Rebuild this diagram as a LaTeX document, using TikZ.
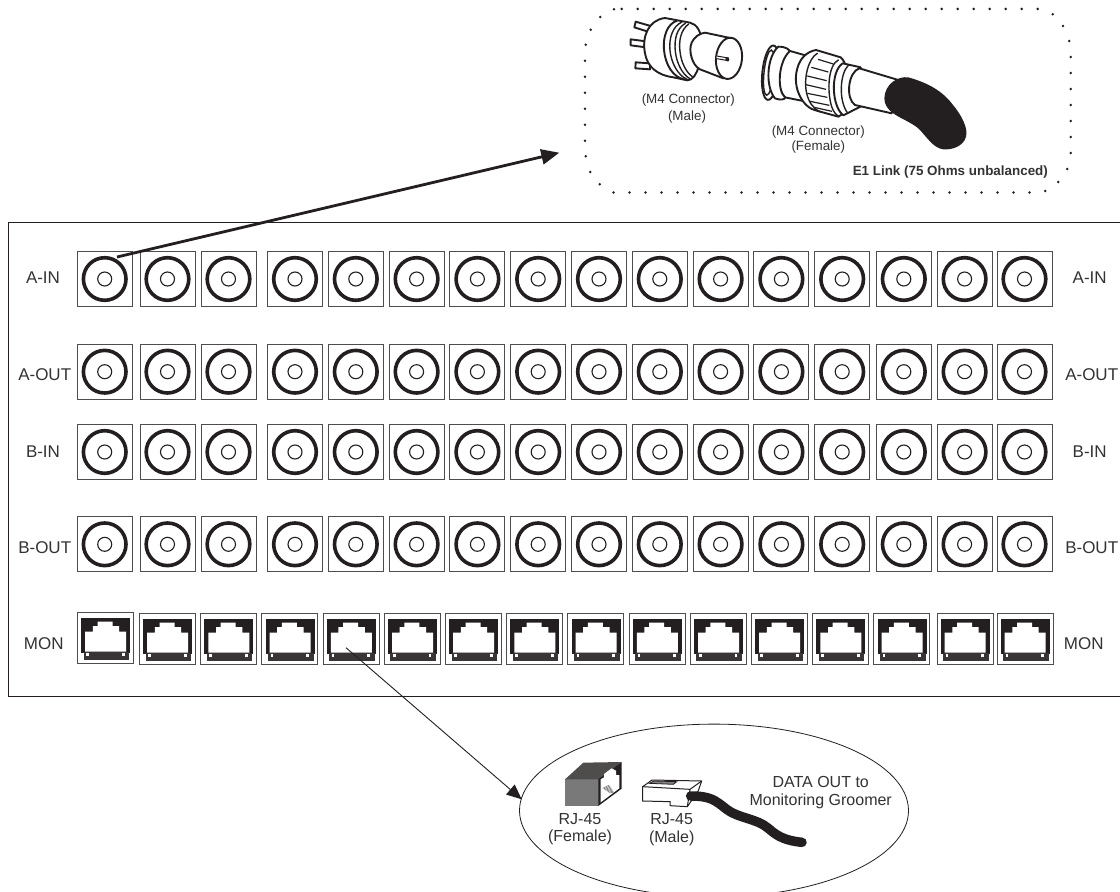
\documentclass[tikz,border=0pt]{standalone}
\usepackage{fontspec}
\setmainfont{Liberation Sans}
\usetikzlibrary{arrows.meta,shapes.geometric}
\definecolor{ink}{HTML}{231F20}
\definecolor{txt}{HTML}{333333}
\tikzset{
  x=1pt,y=-1pt,
  panel/.style={draw=ink,line width=1pt},
  portbox/.style={draw=ink!80,line width=.9pt,minimum width=55pt,minimum height=55pt,inner sep=0pt,fill=white},
  rjbox/.style={draw=ink!80,line width=.9pt,minimum width=56pt,minimum height=51pt,inner sep=0pt,fill=white},
  lab/.style={text=txt,font=\fontsize{17}{20}\selectfont,inner sep=0pt},
  small/.style={text=txt,font=\fontsize{13.4}{16}\selectfont,inner sep=0pt},
  mid/.style={text=txt,font=\fontsize{16}{19}\selectfont,inner sep=0pt},
  boldlab/.style={text=txt,font=\fontsize{13.4}{16}\selectfont\bfseries,inner sep=0pt},
  hw/.style={draw=ink,line width=1.9pt,line join=round,fill=white},
  hl/.style={draw=ink,line width=1.4pt,line cap=round},
  rjicon/.pic={
    \fill[ink] (-24.3,-19.5) rectangle (24.7,14.8);
    \fill[white] (-20.3,13.8) -- (-20.3,-6.2) -- (-12.7,-6.2) -- (-12.7,-11.8) -- (-8,-11.8) -- (-8,-16.2)
      -- (7,-16.2) -- (7,-11.8) -- (13.7,-11.8) -- (13.7,-6.2) -- (20.7,-6.2) -- (20.7,13.8) -- cycle;
    \fill[ink!90] (-22,13.8) rectangle (23.7,22.2);
    \fill[white] (-19.3,15.5) rectangle (-16.7,17.8);
    \fill[white] (16.3,15.5) rectangle (19,17.8);
  }
}
\begin{document}
\begin{tikzpicture}
\clip (0,0) rectangle (1120,892);
\fill[white] (0,0) rectangle (1120,892);
% panel
\draw[panel] (1130,222) -- (8,222) -- (8,696) -- (1130,696);
% BNC ports
\foreach \rn/\ry in {1/279,2/371.7,3/452,4/544.3}{
  \foreach \cn/\cx in {1/104.7,2/167.5,3/228.5,4/295,5/355.8,6/416.6,7/477.4,8/538.2,9/599,10/659.8,11/720.6,12/781.4,13/842.2,14/903.8,15/964.6,16/1024.5}{
    \node[portbox] (bnc-\rn-\cn) at (\cx,\ry) {};
    \draw[ink,line width=3.6pt] (bnc-\rn-\cn.center) circle[radius=21.3];
    \draw[ink,line width=1.1pt] (bnc-\rn-\cn.center) circle[radius=7];
  }
}
% RJ ports
\node[rjbox] (rj-1) at (105.5,637.8) {};
\pic at (rj-1.center) {rjicon};
\foreach \cn/\cx in {2/167.5,3/228.7,4/289.9,5/351.1,6/412.3,7/473.5,8/534.7,9/595.9,10/657.1,11/718.3,12/779.5,13/840.7,14/901.9,15/965,16/1025}{
  \node[rjbox] (rj-\cn) at (\cx,638.8) {};
  \pic at (rj-\cn.center) {rjicon};
}
% row labels
\node[lab] (l1) at (43,278) {A-IN};
\node[lab] (l2) at (44.7,375) {A-OUT};
\node[lab] (l3) at (43,452) {B-IN};
\node[lab] (l4) at (44.7,548) {B-OUT};
\node[lab] (l5) at (43.7,643.5) {MON};
\node[lab] (r1) at (1089.7,278) {A-IN};
\node[lab] (r2) at (1091.7,375) {A-OUT};
\node[lab] (r3) at (1089.7,452) {B-IN};
\node[lab] (r4) at (1091.7,548) {B-OUT};
\node[lab] (r5) at (1083.7,644) {MON};
% dotted outline
\foreach \k in {0,...,26}{
  \fill[ink] ({621.7+16*\k},8.9) circle[radius=1.4];
  \fill[ink] ({613.5+16*\k},192.5) circle[radius=1.4];
}
\foreach \dx/\dy in {614/9.3,600.3/17,590.7/29.7,585.7/44.7,585/60.7,585/76.7,585/92.7,585/108.7,585/124.7,585/140.7,585.7/156.3,590.3/172,599.7/184.3,
  1052.7/14.3,1063/26,1069.3/41,1070.7/57,1070.7/73,1070.7/89,1070.7/105,1070.7/121,1070.7/137,1070.7/153,1067.3/169,1058.3/182,1045.3/191}{
  \fill[ink] (\dx,\dy) circle[radius=1.4];
}
% ellipse
\node[draw=ink,line width=.8pt,ellipse,minimum width=389pt,minimum height=173pt,inner sep=0pt] (rjellipse) at (714,810.6) {};
% connectors
\coordinate (m4start) at (117,257);
\coordinate (m4end) at (559.3,152.7);
\coordinate (rjstart) at (346,647.7);
\coordinate (rjend) at (521.7,799.3);
\draw[ink,line width=2.8pt,-{Triangle[length=18pt,width=15pt]}] (m4start) -- (m4end);
\draw[ink,line width=.9pt,-{Triangle[length=15pt,width=13pt]}] (rjstart) -- (rjend);
% M4 male (coordinates: zoom scale 3)
\begin{scope}[shift={(590,0)},x=1/3*1pt,y=-1/3*1pt]
  \draw[hw] (137,65) -- (182,78) -- (177,96) -- (133,82) -- cycle;
  \draw[hw] (122,118) -- (168,124) -- (168,142) -- (122,136) -- cycle;
  \draw[hw] (137,187) -- (180,190) -- (180,208) -- (136,205) -- cycle;
  \draw[hw] (225,54) .. controls (175,60) and (155,110) .. (165,160)
     .. controls (172,200) and (200,225) .. (250,232) -- (292,241)
     .. controls (325,240) and (335,170) .. (335,130) .. controls (335,95) and (320,72) .. (300,68) -- cycle;
  \draw[hw] (262,62) .. controls (232,70) and (218,110) .. (222,150) .. controls (226,195) and (250,232) .. (282,238);
  \draw[hl] (276,66) .. controls (248,78) and (236,115) .. (240,152) .. controls (244,190) and (265,228) .. (292,238);
  \draw[hl] (286,70) .. controls (260,85) and (252,118) .. (256,155) .. controls (260,190) and (278,225) .. (300,236);
  \draw[hl] (296,72) .. controls (272,90) and (266,122) .. (270,155) .. controls (274,190) and (290,220) .. (310,232);
  \draw[hw] (345,98) -- (425,115) -- (400,235) -- (330,208) .. controls (305,195) and (295,150) .. (305,128) .. controls (312,112) and (328,100) .. (345,98) -- cycle;
  \draw[hw,rotate around={-6:(417,175)}] (417,175) ellipse[x radius=39,y radius=62];
  \draw[ink,line width=1pt,fill=white] (380,168) -- (415,174) -- (415,182) -- (380,176);
  \fill[ink] (412,178) circle[radius=6];
% M4 female
  \draw[hw,rotate around={-6:(542,218)}] (542,218) ellipse[x radius=25,y radius=82];
  \draw[hl,rotate around={-6:(537,218)}] (537,218) ellipse[x radius=15,y radius=68];
  \draw[hw] (590,150) -- (660,170) -- (650,305) -- (585,292) .. controls (560,270) and (555,180) .. (590,150) -- cycle;
  \draw[hw] (565,140) .. controls (590,140) and (600,150) .. (598,155) .. controls (565,185) and (560,270) .. (585,292) .. controls (588,298) and (570,302) .. (555,295) .. controls (525,260) and (530,170) .. (565,140) -- cycle;
  % knurled ring
  \draw[hw] (678,150) -- (752,172) .. controls (785,200) and (790,330) .. (745,350) -- (680,332)
     .. controls (640,325) and (605,265) .. (622,205) .. controls (630,175) and (650,155) .. (678,150) -- cycle;
  \draw[hl] (682,160) .. controls (655,175) and (640,235) .. (650,280) .. controls (656,305) and (668,325) .. (690,335);
  \draw[hl] (745,180) .. controls (715,195) and (710,270) .. (725,320) .. controls (730,335) and (738,345) .. (748,350);
  \foreach \a/\b/\c/\d in {684/178/730/192,664/202/715/216,652/228/710/242,648/254/708/268,652/280/712/292,660/304/718/316,672/322/726/334}{
    \draw[ink,line width=1.2pt] (\a,\b) -- (\c,\d);
  }
  % collar
  \draw[hw] (758,190) -- (812,202) -- (815,318) -- (760,346) .. controls (725,320) and (720,215) .. (758,190) -- cycle;
  \draw[hl] (775,196) .. controls (750,220) and (745,300) .. (772,338);
  % tube
  \draw[hw] (808,205) -- (925,240) -- (905,340) -- (795,315) .. controls (765,295) and (775,215) .. (808,205) -- cycle;
  % boot
  \fill[ink] (883,295) .. controls (885,250) and (925,228) .. (955,232)
     .. controls (1000,245) and (1050,265) .. (1085,310)
     .. controls (1115,345) and (1135,385) .. (1128,410)
     .. controls (1120,440) and (1085,450) .. (1060,448)
     .. controls (1030,445) and (1010,410) .. (985,385)
     .. controls (960,365) and (930,355) .. (910,340)
     .. controls (895,330) and (883,315) .. (883,295) -- cycle;
\end{scope}
% M4 texts
\node[small] (m1) at (688.3,100) {(M4 Connector)};
\node[small] (m2) at (687,116.7) {(Male)};
\node[small] (f1) at (818.3,131.7) {(M4 Connector)};
\node[small] (f2) at (818.3,146.7) {(Female)};
\node[boldlab] (e1) at (950.3,171.7) {E1 Link (75 Ohms unbalanced)};
% RJ-45 graphics
\begin{scope}[shift={(530,720)},x=1/3*1pt,y=-1/3*1pt]
  \fill[gray!95!black] (105,178) rectangle (207,258);
  \fill[ink!80] (105,178) -- (160,128) -- (275,126) -- (207,178) -- cycle;
  \fill[ink] (205,178) -- (275,126) -- (275,206) -- (205,258) -- cycle;
  \fill[white] (212,195) -- (212,178) -- (222,172) -- (222,162) -- (245,145) -- (258,152) -- (258,165) -- (268,165) -- (268,205) -- (212,247) -- cycle;
  \foreach \q in {0,...,7}{
    \draw[ink!70,line width=.5pt] ({218+\q*3},{205+\q*2}) -- ({238+\q*2},{195+\q*3});
  }
  % male plug
  \draw[ink,line width=1pt,fill=white] (338,200) -- (366,180) -- (515,183) -- (505,212) -- (472,260) -- (420,257) -- (420,245) -- (338,243) -- cycle;
  \draw[ink,line width=1pt] (338,200) -- (480,208) -- (515,183);
  \draw[ink,line width=1pt] (480,208) -- (472,260);
  \draw[ink,line width=.8pt,fill=gray] (358,190) -- (372,183) -- (440,185) -- (430,193) -- cycle;
  % cable
  \draw[ink,line width=9.5pt,line cap=round] (482,228) .. controls (540,228) and (555,240) .. (590,268)
     .. controls (625,295) and (680,295) .. (715,325) .. controls (745,352) and (770,362) .. (816,367);
\end{scope}
% RJ-45 texts
\node[mid] (jf1) at (580,819) {RJ-45};
\node[mid] (jf2) at (580,837.3) {(Female)};
\node[mid] (jm1) at (671.7,819.3) {RJ-45};
\node[mid] (jm2) at (671.7,838.3) {(Male)};
\node[mid] (d1) at (820.7,782.3) {DATA OUT to};
\node[mid] (d2) at (820.7,801) {Monitoring Groomer};
\end{tikzpicture}
\end{document}
